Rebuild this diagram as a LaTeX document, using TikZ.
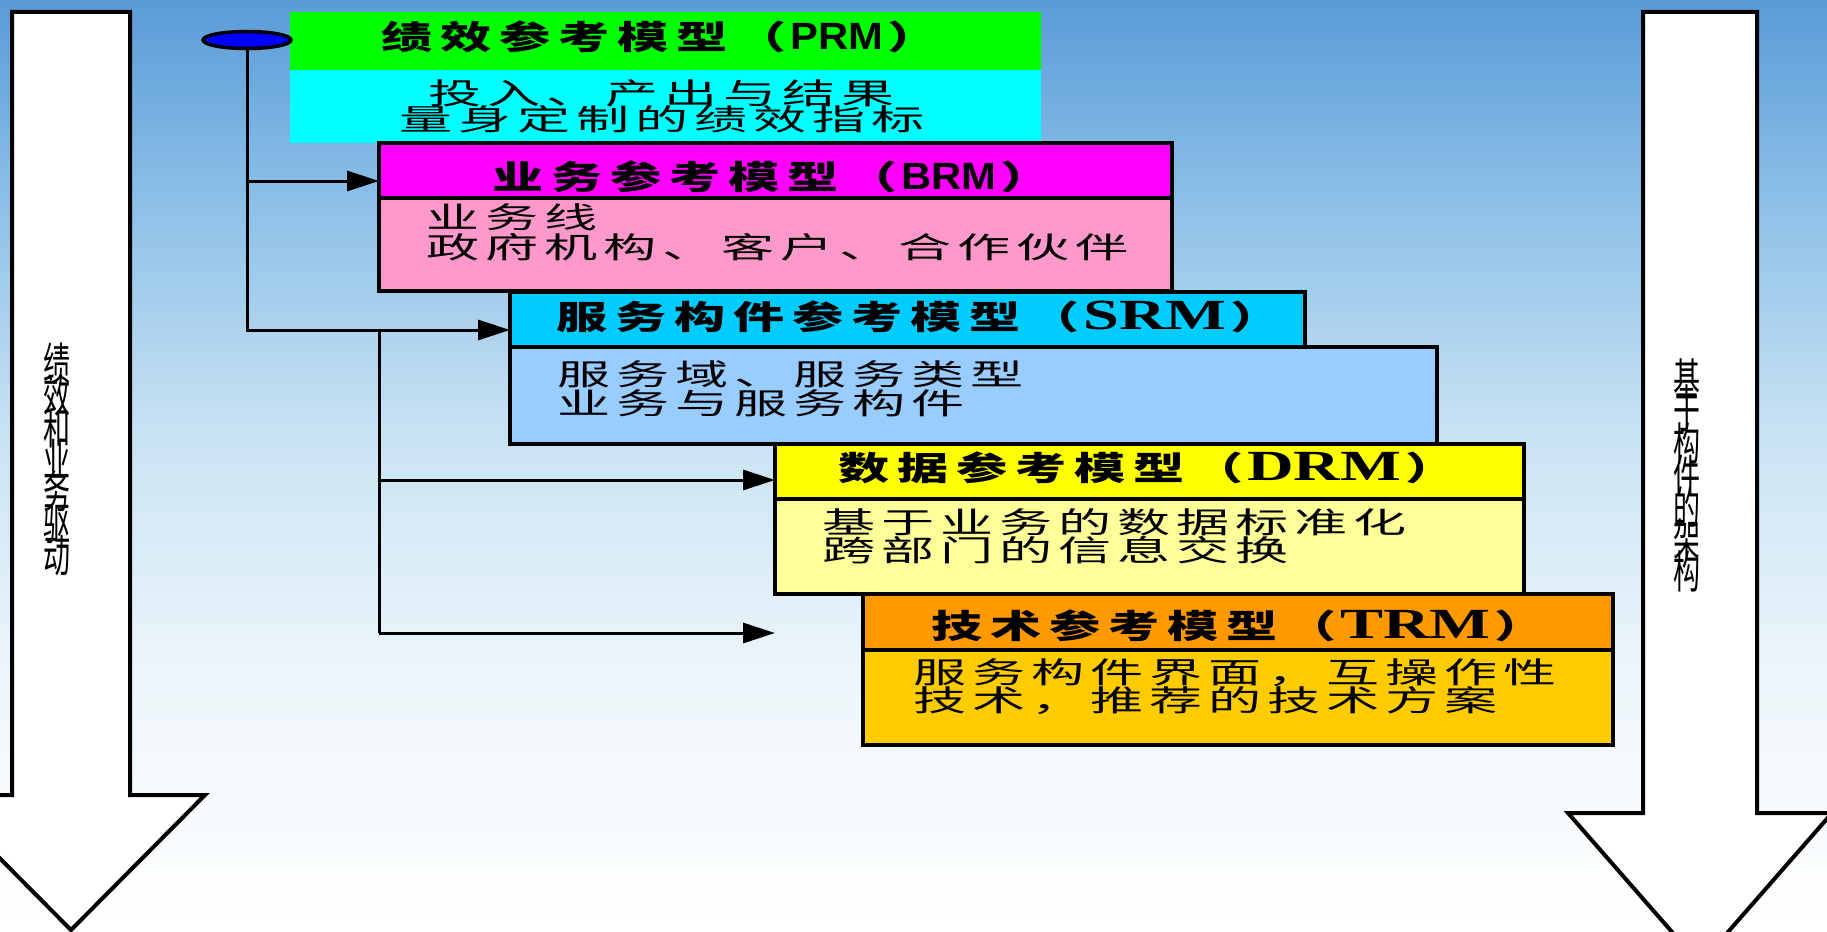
\documentclass[tikz,border=0pt]{standalone}
\usepackage{fontspec}
\usetikzlibrary{arrows.meta,shapes.geometric}
\newfontfamily\cjkbody[FakeStretch=1.8]{Noto Sans CJK SC}
\newfontfamily\cjkhead[FakeStretch=1.55]{Noto Sans CJK SC}
\newfontfamily\cjkvert[FakeStretch=0.6]{Noto Sans CJK SC}
\newfontfamily\latsans[FakeStretch=1.1]{Liberation Sans}
\newfontfamily\latserif[FakeStretch=1.5]{Liberation Serif}
\newcommand\cjkspread[1]{\cjkspreadaux#1\relax}
\def\cjkspreadaux#1{\ifx\relax#1\else\makebox[59pt][c]{#1}\expandafter\cjkspreadaux\fi}
\newcommand\psans[1]{{\latsans\bfseries\fontsize{38}{38}\selectfont #1}}
\newcommand\pserif[1]{{\latserif\bfseries\fontsize{43}{43}\selectfont #1}}
\newcommand\vfontsel{\cjkvert\fontsize{45}{32}\selectfont\lineskiplimit=-100pt\relax\lineskip=0pt\relax}
\definecolor{bgc1}{RGB}{90,155,215}
\definecolor{bgc2}{RGB}{135,188,230}
\definecolor{bgc3}{RGB}{200,226,243}
\definecolor{bgc4}{RGB}{238,246,251}
\definecolor{prmh}{RGB}{0,255,0}
\definecolor{prmb}{RGB}{0,255,255}
\definecolor{brmh}{RGB}{255,0,255}
\definecolor{brmb}{RGB}{255,153,204}
\definecolor{srmh}{RGB}{0,204,255}
\definecolor{srmb}{RGB}{153,204,255}
\definecolor{drmh}{RGB}{255,255,0}
\definecolor{drmb}{RGB}{255,255,153}
\definecolor{trmh}{RGB}{255,153,0}
\definecolor{trmb}{RGB}{255,204,0}
\pgfdeclareverticalshading{bgshade}{100bp}{color(0bp)=(white); color(25bp)=(white); color(38.4bp)=(bgc4); color(51.9bp)=(bgc3); color(65.3bp)=(bgc2); color(75bp)=(bgc1); color(100bp)=(bgc1)}
\begin{document}
\begin{tikzpicture}[x=1pt,y=-1pt,
  plainbox/.style={anchor=north west, inner sep=0, outer sep=0},
  framebox/.style={plainbox, draw=black, line width=3.5pt},
  bodytxt/.style={anchor=west, inner sep=0, font=\cjkbody\fontsize{29.5}{29.5}\selectfont},
  headtxt/.style={anchor=west, inner sep=0, font=\cjkhead\bfseries\fontsize{33}{33}\selectfont},
  vert/.style={align=center, inner sep=0, font=\vfontsel},
  blockarrow/.style={draw=black, fill=white, line width=4pt, line join=miter},
  conn/.style={draw=black, line width=3pt},
  arr/.style={conn, -{Triangle[length=32pt,width=20pt]}}]
\useasboundingbox (0,0) rectangle (1827,931);
\clip (0,0) rectangle (1827,931);
\shade[shading=bgshade] (0,0) rectangle (1827,931);

% block arrows
\draw[blockarrow] (12,12) -- (130,12) -- (130,795) -- (205,795) -- (71,930) -- (-63,795) -- (12,795) -- cycle;
\draw[blockarrow] (1643,12) -- (1757,12) -- (1757,813) -- (1832,813) -- (1700,964) -- (1568,813) -- (1643,813) -- cycle;
\node[vert] (lv) at (57,459) {绩\\效\\和\\业\\务\\驱\\动};
\node[vert] (rv) at (1687,475) {基\\于\\构\\件\\的\\架\\构};

% PRM
\node[plainbox, fill=prmh, minimum width=751, minimum height=58] (prmhd) at (290,12) {};
\node[plainbox, fill=prmb, minimum width=751, minimum height=73] (prmbd) at (290,70) {};
\node[headtxt] (prmt) at (377,37) {\cjkspread{绩效参考模型（}\psans{PRM}\cjkspread{）}};
\node[bodytxt] (p1) at (425,93) {\cjkspread{投入、产出与结果}};
\node[bodytxt] (p2) at (396,119) {\cjkspread{量身定制的绩效指标}};

% BRM
\node[framebox, fill=brmh, minimum width=793, minimum height=55] (brmhd) at (379,143) {};
\node[framebox, fill=brmb, minimum width=793, minimum height=93] (brmbd) at (379,198) {};
\node[headtxt] (brmt) at (488,177) {\cjkspread{业务参考模型（}\psans{BRM}\cjkspread{）}};
\node[bodytxt] (b1) at (423,217) {\cjkspread{业务线}};
\node[bodytxt] (b2) at (423,247) {\cjkspread{政府机构、客户、合作伙伴}};

% SRM
\node[framebox, fill=srmh, minimum width=795, minimum height=55] (srmhd) at (510,292) {};
\node[framebox, fill=srmb, minimum width=927, minimum height=97] (srmbd) at (510,347) {};
\node[headtxt] (srmt) at (552,317) {\cjkspread{服务构件参考模型（}\pserif{SRM}\cjkspread{）}};
\node[bodytxt] (s1) at (554,374) {\cjkspread{服务域、服务类型}};
\node[bodytxt] (s2) at (554,403) {\cjkspread{业务与服务构件}};

% DRM
\node[framebox, fill=drmh, minimum width=749, minimum height=55] (drmhd) at (775,444) {};
\node[framebox, fill=drmb, minimum width=749, minimum height=95] (drmbd) at (775,499) {};
\node[headtxt] (drmt) at (834,468) {\cjkspread{数据参考模型（}\pserif{DRM}\cjkspread{）}};
\node[bodytxt] (d1) at (819,522) {\cjkspread{基于业务的数据标准化}};
\node[bodytxt] (d2) at (819,550) {\cjkspread{跨部门的信息交换}};

% TRM
\node[framebox, fill=trmh, minimum width=750, minimum height=56] (trmhd) at (863,594) {};
\node[framebox, fill=trmb, minimum width=750, minimum height=95] (trmbd) at (863,650) {};
\node[headtxt] (trmt) at (927,626) {\cjkspread{技术参考模型（}\pserif{TRM}\cjkspread{）}};
\node[bodytxt] (t1) at (910,673) {\cjkspread{服务构件界面，互操作性}};
\node[bodytxt] (t2) at (910,701) {\cjkspread{技术，推荐的技术方案}};

% connectors
\coordinate (j1) at (247,181);
\coordinate (j2) at (247,330);
\coordinate (j3) at (379,330);
\coordinate (j4) at (379,480);
\coordinate (j5) at (379,633);
\draw[conn] (247,40) -- (j2) -- (j3) -- (j5);
\draw[arr] (j1) -- (j1 -| brmhd.west);
\draw[arr] (j3) -- (j3 -| srmhd.west);
\draw[arr] (j4) -- (j4 -| drmhd.west);
\draw[arr] (j5) -- (j5 -| drmbd.west);
\node[ellipse, draw=black, fill=blue, line width=3.5pt, inner sep=0, minimum width=88, minimum height=17] (ell) at (247,40) {};
\end{tikzpicture}
\end{document}
